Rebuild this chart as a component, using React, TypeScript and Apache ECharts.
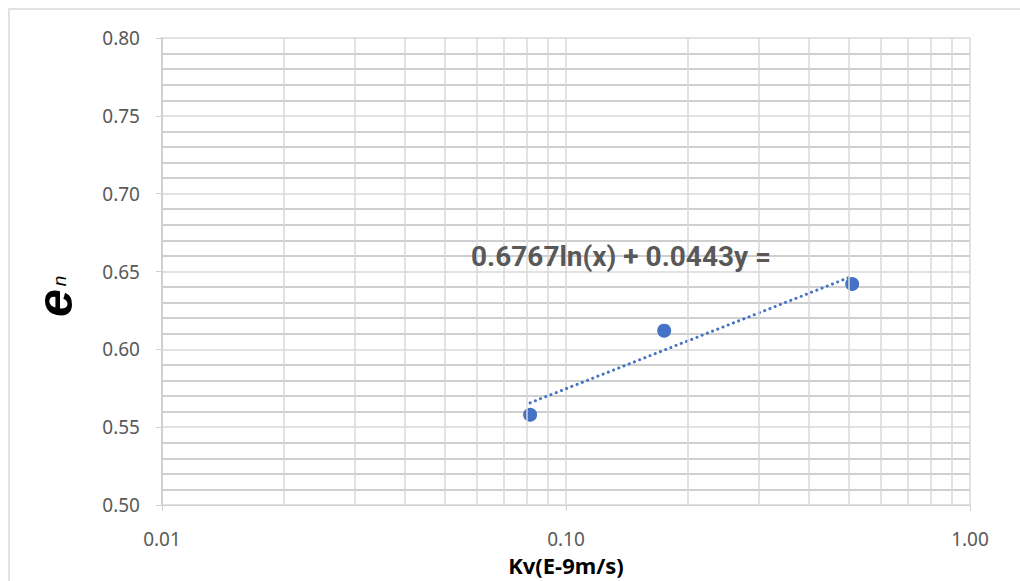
import React, { useEffect, useRef } from "react";
import * as echarts from "echarts";

const kvValues = [0.0815, 0.175, 0.511];
const enValues = [0.558, 0.612, 0.642];
const trendCoefficients = { slope: 0.0443, intercept: 0.6767 };
const trendLabel = "0.6767ln(x) + 0.0443y =";
const xMinorTicks = [0.02, 0.03, 0.04, 0.05, 0.06, 0.07, 0.08, 0.09, 0.2, 0.3, 0.4, 0.5, 0.6, 0.7, 0.8, 0.9];
const xAxisTitle = "Kv(E-9m/s)";

const LABEL_FONT = '"Noto Sans", "Open Sans", sans-serif';

export default function App() {
  const ref = useRef<HTMLDivElement>(null);
  useEffect(() => {
    if (!ref.current) return;
    const chart = echarts.init(ref.current, null, { renderer: "svg" });
    const xs = [kvValues[0], kvValues[kvValues.length - 1]];
    const trendData = xs.map((x) => [x, trendCoefficients.slope * Math.log(x) + trendCoefficients.intercept]);
    chart.setOption({
      animation: false,
      backgroundColor: "#ffffff",
      grid: { left: 162, right: 50, top: 38, bottom: 75, containLabel: false },
      xAxis: {
        type: "log",
        logBase: 10,
        min: 0.01,
        max: 1,
        axisLine: { show: true, lineStyle: { color: "#d0d0d0", width: 1 } },
        axisTick: { show: true, length: 6, lineStyle: { color: "#d0d0d0" } },
        splitLine: { show: true, lineStyle: { color: "#d9d9d9", width: 1.5 } },
        axisLabel: {
          color: "#595959",
          fontSize: 19,
          fontFamily: LABEL_FONT,
          margin: 24,
          formatter: (v: number) => v.toFixed(2),
        },
        name: xAxisTitle,
        nameLocation: "middle",
        nameGap: 49,
        nameTextStyle: { color: "#000000", fontSize: 22, fontWeight: "bold", fontFamily: LABEL_FONT },
      },
      yAxis: {
        type: "value",
        min: 0.5,
        max: 0.8,
        interval: 0.05,
        axisLine: { show: true, lineStyle: { color: "#d0d0d0", width: 2 } },
        axisTick: { show: true, length: 6, lineStyle: { color: "#d0d0d0" } },
        splitLine: { show: true, lineStyle: { color: "#d9d9d9", width: 1.5 } },
        minorTick: { show: false, splitNumber: 5 },
        minorSplitLine: { show: true, lineStyle: { color: "#bfbfbf", width: 1.5 } },
        axisLabel: {
          color: "#595959",
          fontSize: 19,
          fontFamily: LABEL_FONT,
          margin: 22,
          formatter: (v: number) => v.toFixed(2),
        },
      },
      graphic: [
        {
          type: "rect",
          shape: { x: 9, y: 9, width: 1100, height: 700 },
          style: { fill: "none", stroke: "#d9d9d9", lineWidth: 1.5 },
          silent: true,
          z: -1,
        },
        {
          type: "text",
          x: 471,
          y: 256,
          style: {
            text: trendLabel,
            fill: "#595959",
            font: 'bold 28px Roboto, "Liberation Sans", sans-serif',
            verticalAlign: "middle",
          },
          z: 10,
        },
        {
          type: "text",
          x: 55,
          y: 303,
          rotation: Math.PI / 2,
          style: {
            text: "e",
            fill: "#000000",
            font: 'italic bold 50px "Liberation Sans", Arial, sans-serif',
            align: "center",
            verticalAlign: "middle",
          },
        },
        {
          type: "text",
          x: 59,
          y: 281,
          rotation: Math.PI / 2,
          style: {
            text: "n",
            fill: "#000000",
            font: 'italic 19px "Liberation Sans", Arial, sans-serif',
            align: "center",
            verticalAlign: "middle",
          },
        },
      ],
      series: [
        {
          type: "line",
          data: [],
          silent: true,
          markLine: {
            silent: true,
            symbol: ["none", "none"],
            label: { show: false },
            lineStyle: { color: "#d9d9d9", width: 1.5, type: "solid" },
            data: xMinorTicks.map((v) => ({ xAxis: v })),
          },
          z: 1,
        },
        {
          type: "line",
          data: trendData,
          symbol: "none",
          lineStyle: { color: "#4472C4", width: 3, type: [0.1, 5.5], cap: "round" },
          z: 3,
        },
        {
          type: "scatter",
          data: kvValues.map((x, i) => [x, enValues[i]]),
          symbol: "circle",
          symbolSize: 14,
          itemStyle: { color: "#4472C4", opacity: 1 },
          z: 4,
        },
      ],
    });
    return () => chart.dispose();
  }, []);
  return <div ref={ref} style={{ width: 1020, height: 581, position: "absolute", left: 0, top: 0 }} />;
}
